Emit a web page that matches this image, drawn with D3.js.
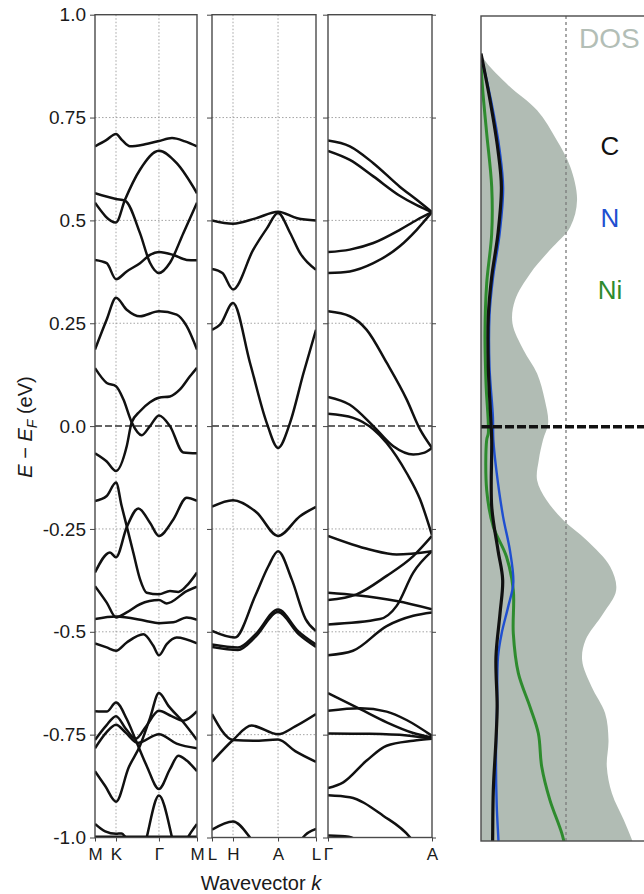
<!DOCTYPE html>
<html>
<head>
<meta charset="utf-8">
<script src="https://cdn.jsdelivr.net/npm/d3@7"></script>
<style>
  body { margin: 0; background: #fff; }
  svg { display: block; font-family: "Liberation Sans", Arial, sans-serif; }
</style>
</head>
<body>
<svg id="chart" width="644" height="894"></svg>
<script>
// energy ticks (eV)
const yTicks = [1.0, 0.75, 0.5, 0.25, 0.0, -0.25, -0.5, -0.75, -1.0];
const yTickLabels = ["1.0", "0.75", "0.5", "0.25", "0.0", "-0.25", "-0.5", "-0.75", "-1.0"];

// high symmetry points, k as fraction of each segment
const kPos1 = [0, 0.206, 0.627, 1];
const kLabels1 = ["M", "K", "Γ", "M"];
const kPos2 = [0, 0.202, 0.635, 1];
const kLabels2 = ["L", "H", "A", "L"];
const kPos3 = [0, 1];
const kLabels3 = ["Γ", "A"];

// bands along M-K-Γ-M : [k, E]
const bands1 = [
  [[0,0.68],[0.11,0.695],[0.206,0.71],[0.265,0.695],[0.343,0.68],[0.49,0.685],[0.627,0.693],[0.755,0.70],[0.882,0.692],[1,0.68]],
  [[0,0.543],[0.206,0.495],[0.294,0.55],[0.441,0.623],[0.627,0.669],[0.801,0.639],[1,0.566]],
  [[0,0.566],[0.206,0.552],[0.294,0.548],[0.441,0.469],[0.539,0.397],[0.627,0.372],[0.735,0.397],[0.866,0.469],[1,0.543]],
  [[0,0.404],[0.115,0.396],[0.206,0.357],[0.311,0.376],[0.441,0.396],[0.539,0.416],[0.627,0.423],[0.768,0.416],[0.899,0.404],[1,0.403]],
  [[0,0.186],[0.115,0.259],[0.206,0.312],[0.311,0.283],[0.441,0.267],[0.627,0.279],[0.801,0.271],[0.899,0.243],[1,0.186]],
  [[0,0.141],[0.115,0.105],[0.206,0.097],[0.278,0.065],[0.36,0.009],[0.458,-0.022],[0.539,0],[0.627,0.026],[0.735,0],[0.866,-0.064],[1,-0.066]],
  [[0,-0.066],[0.115,-0.086],[0.206,-0.109],[0.311,-0.049],[0.36,0.009],[0.441,0.036],[0.539,0.058],[0.627,0.069],[0.735,0.072],[0.833,0.089],[0.931,0.121],[1,0.142]],
  [[0,-0.182],[0.115,-0.170],[0.206,-0.137],[0.262,-0.195],[0.311,-0.243],[0.376,-0.308],[0.441,-0.372],[0.507,-0.405],[0.627,-0.409],[0.735,-0.401],[0.817,-0.403],[0.899,-0.388],[1,-0.356]],
  [[0,-0.356],[0.147,-0.307],[0.206,-0.319],[0.311,-0.246],[0.425,-0.200],[0.539,-0.235],[0.627,-0.267],[0.768,-0.227],[0.899,-0.174],[1,-0.182]],
  [[0,-0.389],[0.115,-0.429],[0.206,-0.465],[0.311,-0.453],[0.441,-0.433],[0.627,-0.423],[0.703,-0.431],[0.899,-0.401],[1,-0.39]],
  [[0,-0.469],[0.206,-0.463],[0.49,-0.473],[0.627,-0.479],[0.768,-0.477],[0.899,-0.465],[1,-0.471]],
  [[0,-0.528],[0.115,-0.538],[0.206,-0.546],[0.311,-0.526],[0.474,-0.506],[0.572,-0.534],[0.627,-0.557],[0.703,-0.530],[0.801,-0.514],[1,-0.528]],
  [[0,-0.693],[0.115,-0.694],[0.206,-0.672],[0.311,-0.712],[0.409,-0.769],[0.507,-0.826],[0.627,-0.882],[0.735,-0.834],[0.817,-0.801],[0.899,-0.813],[1,-0.839]],
  [[0,-0.839],[0.1,-0.875],[0.206,-0.913],[0.33,-0.83],[0.441,-0.777],[0.539,-0.71],[0.627,-0.649],[0.72,-0.68],[0.866,-0.72],[1,-0.763]],
  [[0,-0.763],[0.11,-0.728],[0.206,-0.705],[0.3,-0.735],[0.4,-0.76],[0.5,-0.73],[0.627,-0.692],[0.75,-0.705],[0.866,-0.716],[1,-0.693]],
  [[0,-0.783],[0.11,-0.745],[0.206,-0.726],[0.3,-0.745],[0.42,-0.77],[0.627,-0.749],[0.8,-0.772],[1,-0.783]],
  [[0.47,-1.04],[0.507,-1.0],[0.627,-0.898],[0.755,-1.0],[0.79,-1.04]],
  [[0,-0.967],[0.1,-0.985],[0.206,-0.991],[0.26,-0.99],[0.3,-1.0],[0.35,-1.02]],
  [[0.85,-1.03],[0.91,-1.0],[1,-0.967]],
  [[0,-0.998],[0.5,-0.998],[1,-0.998]]
];

// bands along L-H-A-L
const bands2 = [
  [[0,0.500],[0.202,0.492],[0.42,0.505],[0.635,0.521],[0.82,0.505],[1,0.500]],
  [[0,0.382],[0.1,0.372],[0.202,0.332],[0.397,0.429],[0.526,0.48],[0.635,0.518],[0.75,0.47],[0.846,0.421],[1,0.380]],
  [[0,0.234],[0.08,0.247],[0.202,0.299],[0.365,0.154],[0.526,0.008],[0.635,-0.053],[0.75,0.008],[0.88,0.129],[1,0.234]],
  [[0,-0.196],[0.202,-0.180],[0.43,-0.210],[0.635,-0.267],[0.846,-0.219],[1,-0.196]],
  [[0,-0.498],[0.22,-0.514],[0.415,-0.413],[0.543,-0.340],[0.635,-0.304],[0.766,-0.372],[0.9,-0.469],[1,-0.498]],
  [[0,-0.531],[0.25,-0.538],[0.415,-0.507],[0.635,-0.446],[0.83,-0.499],[1,-0.531]],
  [[0,-0.537],[0.25,-0.544],[0.415,-0.513],[0.635,-0.452],[0.83,-0.505],[1,-0.537]],
  [[0,-0.700],[0.202,-0.763],[0.4,-0.765],[0.635,-0.762],[0.8,-0.79],[1,-0.816]],
  [[0,-0.816],[0.202,-0.763],[0.38,-0.728],[0.635,-0.749],[0.8,-0.73],[1,-0.700]],
  [[0,-0.981],[0.202,-0.961],[0.365,-1.0],[0.42,-1.02]],
  [[0.82,-1.03],[0.875,-1.0],[1,-0.979]]
];

// bands along Γ-A
const bands3 = [
  [[0,0.694],[0.21,0.68],[0.436,0.639],[0.69,0.582],[0.853,0.55],[1,0.520]],
  [[0,0.669],[0.21,0.647],[0.436,0.607],[0.69,0.56],[0.853,0.537],[1,0.520]],
  [[0,0.423],[0.21,0.429],[0.436,0.445],[0.69,0.477],[0.853,0.501],[1,0.520]],
  [[0,0.372],[0.21,0.376],[0.436,0.396],[0.69,0.437],[0.853,0.477],[1,0.520]],
  [[0,0.279],[0.21,0.267],[0.372,0.234],[0.564,0.154],[0.756,0.065],[0.885,-0.008],[1,-0.053]],
  [[0,0.071],[0.21,0.052],[0.436,0.0],[0.628,-0.049],[0.82,-0.069],[0.92,-0.065],[1,-0.053]],
  [[0,0.030],[0.243,0.020],[0.436,-0.008],[0.564,-0.041],[0.756,-0.114],[0.885,-0.178],[1,-0.265]],
  [[0,-0.267],[0.4,-0.300],[0.66,-0.312],[1,-0.304]],
  [[0,-0.423],[0.275,-0.409],[0.564,-0.364],[0.82,-0.316],[1,-0.267]],
  [[0,-0.482],[0.5,-0.469],[0.66,-0.437],[0.82,-0.356],[1,-0.304]],
  [[0,-0.405],[0.275,-0.411],[0.66,-0.425],[1,-0.445]],
  [[0,-0.557],[0.24,-0.546],[0.564,-0.486],[0.82,-0.461],[1,-0.453]],
  [[0,-0.649],[0.31,-0.688],[0.564,-0.720],[0.82,-0.746],[1,-0.757]],
  [[0,-0.692],[0.31,-0.686],[0.564,-0.694],[0.76,-0.715],[1,-0.753]],
  [[0,-0.747],[0.4,-0.748],[0.76,-0.752],[1,-0.76]],
  [[0,-0.880],[0.147,-0.866],[0.372,-0.813],[0.564,-0.777],[0.82,-0.765],[1,-0.76]],
  [[0,-0.897],[0.21,-0.902],[0.53,-0.947],[0.79,-1.0],[0.9,-1.04]],
  [[0,-0.995],[0.2,-0.998],[0.3,-1.01]]
];

// density of states : [E, value]
const dosTotal = [[0.95,0],[0.906,0],[0.833,0.30],[0.768,0.66],[0.696,0.89],[0.631,1.05],[0.550,1.13],[0.485,1.05],[0.429,0.81],[0.372,0.58],[0.307,0.40],[0.251,0.37],[0.186,0.50],[0.129,0.66],[0.065,0.75],[0.008,0.79],[-0.032,0.73],[-0.081,0.68],[-0.130,0.66],[-0.178,0.77],[-0.227,0.97],[-0.275,1.24],[-0.340,1.52],[-0.397,1.59],[-0.453,1.44],[-0.518,1.23],[-0.567,1.19],[-0.631,1.30],[-0.696,1.46],[-0.761,1.50],[-0.825,1.48],[-0.890,1.54],[-0.955,1.68],[-1.0,1.77],[-1.03,1.82]];
const dosC = [[0.906,0],[0.793,0.106],[0.671,0.20],[0.582,0.24],[0.469,0.20],[0.364,0.126],[0.267,0.086],[0.145,0.086],[0.024,0.114],[-0.032,0.126],[-0.194,0.126],[-0.30,0.20],[-0.372,0.255],[-0.453,0.224],[-0.559,0.176],[-0.68,0.19],[-0.761,0.176],[-0.882,0.145],[-1.0,0.137],[-1.03,0.135]];
const dosN = [[0.9,0],[0.79,0.12],[0.67,0.22],[0.58,0.26],[0.47,0.22],[0.36,0.14],[0.27,0.10],[0.145,0.10],[0.024,0.14],[-0.032,0.145],[-0.113,0.185],[-0.219,0.26],[-0.30,0.34],[-0.38,0.38],[-0.437,0.32],[-0.502,0.243],[-0.559,0.20],[-0.68,0.19],[-0.80,0.176],[-0.92,0.185],[-1.0,0.204],[-1.03,0.21]];
const dosNi = [[0.88,0],[0.817,0.02],[0.712,0.067],[0.582,0.126],[0.469,0.126],[0.348,0.067],[0.226,0.047],[0.105,0.059],[-0.016,0.086],[-0.032,0.067],[-0.154,0.067],[-0.243,0.145],[-0.316,0.30],[-0.397,0.38],[-0.502,0.38],[-0.599,0.44],[-0.68,0.576],[-0.745,0.675],[-0.825,0.714],[-0.906,0.81],[-0.987,0.95],[-1.03,1.0]];

const dosLabels = ["C", "N", "Ni"];
const dosColors = ["#111111", "#1f4fd0", "#2e8b2e"];

var svg = d3.select("#chart");

// shared energy scale for the band panels
var yBand = d3.scaleLinear().domain([-1, 1]).range([837.5, 14.7]);

var panels = [
  { x0: 95, x1: 197, kPos: kPos1, kLabels: kLabels1, bands: bands1 },
  { x0: 212, x1: 316, kPos: kPos2, kLabels: kLabels2, bands: bands2 },
  { x0: 328, x1: 432, kPos: kPos3, kLabels: kLabels3, bands: bands3 }
];

var defs = svg.append("defs");

panels.forEach(function(p, i) {
  var xs = d3.scaleLinear().domain([0, 1]).range([p.x0, p.x1]);
  var g = svg.append("g");

  defs.append("clipPath").attr("id", "clip" + i)
    .append("rect")
    .attr("x", p.x0).attr("y", yBand(1))
    .attr("width", p.x1 - p.x0).attr("height", yBand(-1) - yBand(1));

  // dotted grid
  g.selectAll(".hgrid")
    .data(yTicks.filter(function(t) { return t !== 0 && Math.abs(t) !== 1; }))
    .enter().append("line")
    .attr("x1", p.x0).attr("x2", p.x1)
    .attr("y1", function(d) { return yBand(d); })
    .attr("y2", function(d) { return yBand(d); })
    .attr("stroke", "#9a9a9a").attr("stroke-width", 0.9)
    .attr("stroke-dasharray", "1.5,2");

  g.selectAll(".vgrid")
    .data(p.kPos.filter(function(k) { return k > 0 && k < 1; }))
    .enter().append("line")
    .attr("x1", function(d) { return xs(d); })
    .attr("x2", function(d) { return xs(d); })
    .attr("y1", yBand(1)).attr("y2", yBand(-1))
    .attr("stroke", "#9a9a9a").attr("stroke-width", 0.9)
    .attr("stroke-dasharray", "1.5,2");

  // fermi level
  g.append("line")
    .attr("x1", p.x0).attr("x2", p.x1)
    .attr("y1", yBand(0)).attr("y2", yBand(0))
    .attr("stroke", "#333").attr("stroke-width", 1.5)
    .attr("stroke-dasharray", "7,3");

  var line = d3.line()
    .x(function(d) { return xs(d[0]); })
    .y(function(d) { return yBand(d[1]); })
    .curve(d3.curveMonotoneX);

  g.append("g").attr("clip-path", "url(#clip" + i + ")")
    .selectAll("path")
    .data(p.bands)
    .enter().append("path")
    .attr("d", line)
    .attr("fill", "none")
    .attr("stroke", "#111")
    .attr("stroke-width", 2.5);

  // frame
  g.append("rect")
    .attr("x", p.x0).attr("y", yBand(1))
    .attr("width", p.x1 - p.x0).attr("height", yBand(-1) - yBand(1))
    .attr("fill", "none").attr("stroke", "#4a4a4a").attr("stroke-width", 1.4);

  // y axis
  var yAxis = d3.axisLeft(yBand).tickValues(yTicks).tickSize(5).tickPadding(4)
    .tickFormat(function(d, j) { return i === 0 ? yTickLabels[j] : ""; });
  var gy = g.append("g").attr("transform", "translate(" + p.x0 + ",0)").call(yAxis);
  gy.select(".domain").remove();
  gy.selectAll(".tick line").attr("stroke", "#444");
  gy.selectAll("text").style("font-size", "19px").attr("fill", "#1a1a1a");

  // x axis
  var xAxis = d3.axisBottom(xs).tickValues(p.kPos).tickSize(4).tickPadding(6)
    .tickFormat(function(d, j) { return p.kLabels[j]; });
  var gx = g.append("g").attr("transform", "translate(0," + yBand(-1) + ")").call(xAxis);
  gx.select(".domain").remove();
  gx.selectAll(".tick line").attr("stroke", "#444");
  gx.selectAll("text").style("font-size", "17px").attr("fill", "#1a1a1a");
});

// right ticks of last band panel
var gyR = svg.append("g").attr("transform", "translate(432,0)")
  .call(d3.axisRight(yBand).tickValues(yTicks).tickSize(4).tickFormat(""));
gyR.select(".domain").remove();
gyR.selectAll(".tick line").attr("stroke", "#444");

// axis titles
var yTitle = svg.append("text")
  .attr("transform", "translate(32,427) rotate(-90)")
  .attr("text-anchor", "middle")
  .style("font-size", "20px")
  .attr("fill", "#1a1a1a");
yTitle.append("tspan").style("font-style", "italic").text("E");
yTitle.append("tspan").text(" − ");
yTitle.append("tspan").style("font-style", "italic").text("E");
yTitle.append("tspan").attr("dy", 5).style("font-size", "14px").style("font-style", "italic").text("F");
yTitle.append("tspan").attr("dy", -5).text(" (eV)");

var xTitle = svg.append("text")
  .attr("x", 261).attr("y", 890)
  .attr("text-anchor", "middle")
  .style("font-size", "20px")
  .attr("fill", "#1a1a1a");
xTitle.append("tspan").text("Wavevector ");
xTitle.append("tspan").style("font-style", "italic").text("k");

// DOS panel
var xDos = d3.scaleLinear().domain([0, 2]).range([481, 651]);
var yDos = d3.scaleLinear().domain([0.997, -1.006]).range([16, 841]);

defs.append("clipPath").attr("id", "clipDos")
  .append("rect").attr("x", 481).attr("y", 16).attr("width", 200).attr("height", 825);

var gd = svg.append("g");
var gdc = gd.append("g").attr("clip-path", "url(#clipDos)");

var area = d3.area()
  .y(function(d) { return yDos(d[0]); })
  .x0(xDos(0))
  .x1(function(d) { return xDos(d[1]); })
  .curve(d3.curveCatmullRom.alpha(0.5));

gdc.append("path").datum(dosTotal)
  .attr("d", area)
  .attr("fill", "#b1bcb4");

gdc.append("line")
  .attr("x1", xDos(1)).attr("x2", xDos(1))
  .attr("y1", 16).attr("y2", 841)
  .attr("stroke", "#7a7a7a").attr("stroke-width", 1.3)
  .attr("stroke-dasharray", "3,3");

var dosLine = d3.line()
  .y(function(d) { return yDos(d[0]); })
  .x(function(d) { return xDos(d[1]); })
  .curve(d3.curveCatmullRom.alpha(0.5));

gdc.append("path").datum(dosNi).attr("d", dosLine)
  .attr("fill", "none").attr("stroke", dosColors[2]).attr("stroke-width", 3);
gdc.append("path").datum(dosN).attr("d", dosLine)
  .attr("fill", "none").attr("stroke", dosColors[1]).attr("stroke-width", 2.4);
gdc.append("path").datum(dosC).attr("d", dosLine)
  .attr("fill", "none").attr("stroke", dosColors[0]).attr("stroke-width", 3.2);

gd.append("line")
  .attr("x1", 481).attr("x2", 660)
  .attr("y1", yDos(0)).attr("y2", yDos(0))
  .attr("stroke", "#111").attr("stroke-width", 3.5)
  .attr("stroke-dasharray", "9,3");

gd.append("rect")
  .attr("x", 481).attr("y", 16).attr("width", 200).attr("height", 825)
  .attr("fill", "none").attr("stroke", "#4a4a4a").attr("stroke-width", 1.4);

gd.append("text").attr("x", 579).attr("y", 48)
  .style("font-size", "28px").attr("fill", "#b3beb6").text("DOS");

gd.selectAll(".plabel")
  .data(dosLabels)
  .enter().append("text")
  .attr("x", 610)
  .attr("y", function(d, i) { return 155 + i * 72; })
  .attr("text-anchor", "middle")
  .style("font-size", "26px")
  .attr("fill", function(d, i) { return dosColors[i]; })
  .text(function(d) { return d; });
</script>
</body>
</html>
